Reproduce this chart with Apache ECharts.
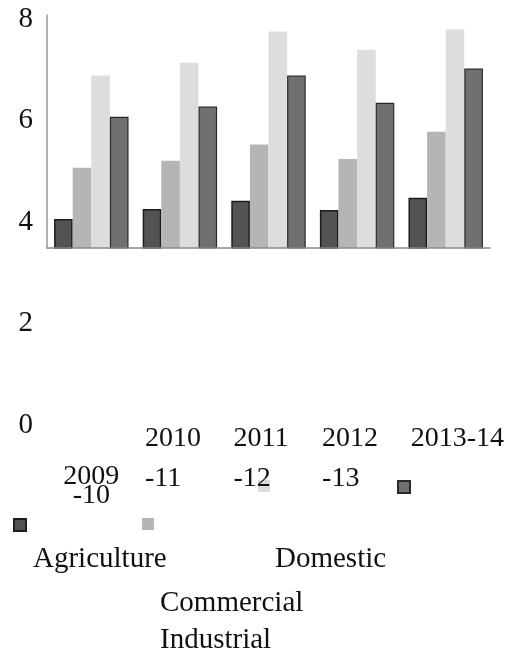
<!DOCTYPE html>
<html>
<head>
<meta charset="utf-8">
<script src="https://cdn.jsdelivr.net/npm/echarts@6/dist/echarts.min.js"></script>
<style>
  html, body { margin: 0; padding: 0; background: #fff; }
  #chart { width: 522px; height: 662px; }
</style>
</head>
<body>
<div id="chart"></div>
<script>
// data
const categories = ['2009-10', '2010-11', '2011-12', '2012-13', '2013-14'];
const seriesNames = ['Agriculture', 'Commercial', 'Industrial', 'Domestic'];
const agriculture = [4.24, 4.43, 4.58, 4.41, 4.64];
const commercial = [5.20, 5.33, 5.63, 5.36, 5.87];
const industrial = [6.92, 7.16, 7.74, 7.40, 7.78];
const domestic = [6.15, 6.34, 6.92, 6.41, 7.05];
const yTicks = [0, 2, 4, 6, 8];

const serif = '"Liberation Serif", "DejaVu Serif", serif';
const chart = echarts.init(document.getElementById('chart'));

// x labels are broken oddly in the original
const xLabel = (value, index) => {
    const parts = value.split('-');
    if (index === 0) return '{e| }\n{c|' + parts[0] + '}\n{c|-' + parts[1] + '}';
    if (index === categories.length - 1) return '{l|' + value + '}';
    return '{l|' + parts[0] + '}\n{l|-' + parts[1] + '}';
};

const bar = (name, data, color, border, bw) => ({
    name: name,
    type: 'bar',
    xAxisIndex: 0,
    yAxisIndex: 0,
    data: data,
    barGap: '0%',
    barCategoryGap: '16%',
    itemStyle: { color: color, borderColor: border, borderWidth: bw }
});

const legendAt = (name, left, top) => ({
    data: [name],
    left: left,
    top: top,
    padding: 0,
    z: 1,
    icon: 'rect',
    itemWidth: 12,
    itemHeight: 12,
    formatter: () => '',
    selectedMode: false
});

const legendText = (text, left, y) => ({
    type: 'text',
    left: left,
    top: y - 17,
    style: { text: text, font: '29px ' + serif, fill: '#111' }
});

const option = {
    animation: false,
    backgroundColor: '#fff',
    grid: [
        { left: 47, top: 15, width: 443, height: 233 },
        { left: 33, top: 19, width: 10, height: 406 }
    ],
    xAxis: [
        {
            gridIndex: 0,
            type: 'category',
            data: categories,
            z: 5,
            axisLine: { lineStyle: { color: '#8a8a8a', width: 1.5 } },
            axisTick: { show: false },
            axisLabel: {
                interval: 0,
                margin: 171,
                width: 70,
                overflow: 'none',
                align: 'center',
                verticalAlign: 'top',
                formatter: xLabel,
                rich: {
                    e: { lineHeight: 48, fontSize: 10 },
                    c: { fontFamily: serif, fontSize: 28, lineHeight: 19, color: '#111', align: 'center' },
                    l: { fontFamily: serif, fontSize: 28, lineHeight: 40, color: '#111', align: 'left' }
                }
            }
        },
        { gridIndex: 1, type: 'value', show: false }
    ],
    yAxis: [
        {
            gridIndex: 0,
            type: 'value',
            min: 3.7,
            max: 8.05,
            axisLine: { show: true, lineStyle: { color: '#9a9a9a', width: 1.5 } },
            axisTick: { show: false },
            axisLabel: { show: false },
            splitLine: { show: false }
        },
        {
            gridIndex: 1,
            type: 'value',
            min: yTicks[0],
            max: yTicks[yTicks.length - 1],
            interval: 2,
            axisLine: { show: false },
            axisTick: { show: false },
            splitLine: { show: false },
            axisLabel: { margin: 0, fontFamily: serif, fontSize: 29, color: '#111' }
        }
    ],
    legend: [
        legendAt(seriesNames[0], 13, 518),
        legendAt(seriesNames[1], 142, 518),
        legendAt(seriesNames[2], 258, 480),
        legendAt(seriesNames[3], 397, 480)
    ],
    graphic: [
        legendText(seriesNames[0], 33, 562),
        legendText(seriesNames[3], 275, 562),
        legendText(seriesNames[1], 160, 606),
        legendText(seriesNames[2], 160, 643)
    ],
    series: [
        bar(seriesNames[0], agriculture, '#535353', '#1c1c1c', 1.5),
        bar(seriesNames[1], commercial, '#b5b5b5', '#b5b5b5', 0),
        bar(seriesNames[2], industrial, '#dddddd', '#dddddd', 0),
        bar(seriesNames[3], domestic, '#707070', '#2a2a2a', 1.2)
    ]
};

chart.setOption(option);
</script>
</body>
</html>
